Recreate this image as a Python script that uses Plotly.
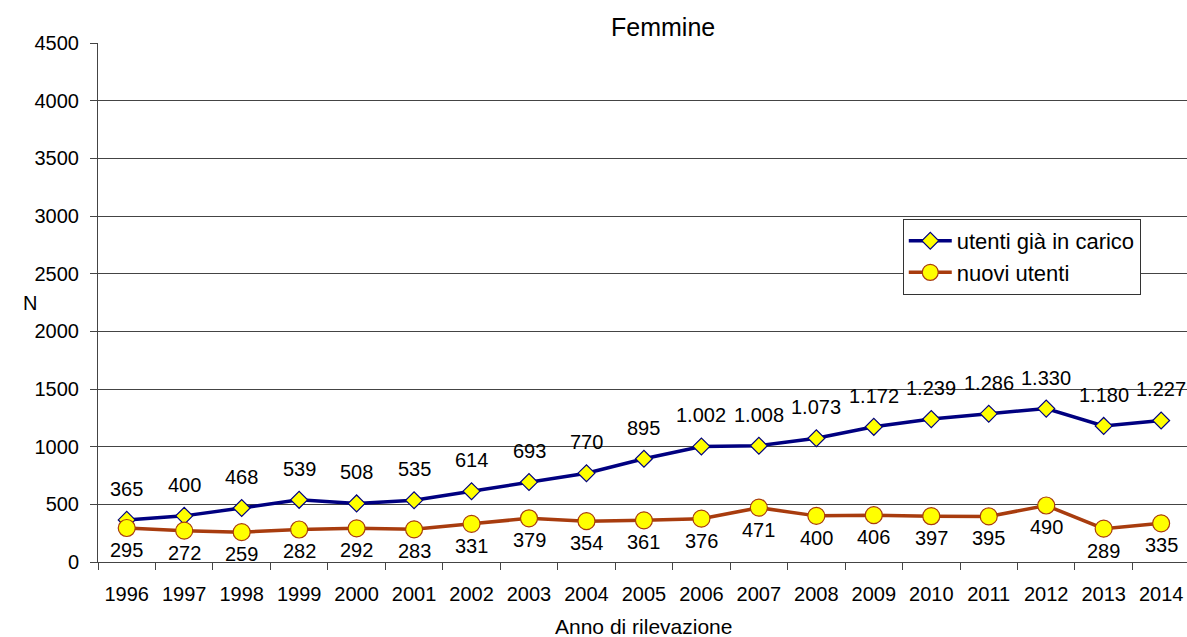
import plotly.graph_objects as go

years = [str(y) for y in range(1996, 2015)]
gia_in_carico = [365, 400, 468, 539, 508, 535, 614, 693, 770, 895, 1002, 1008, 1073, 1172, 1239, 1286, 1330, 1180, 1227]
nuovi_utenti = [295, 272, 259, 282, 292, 283, 331, 379, 354, 361, 376, 471, 400, 406, 397, 395, 490, 289, 335]
y_ticks = [0, 500, 1000, 1500, 2000, 2500, 3000, 3500, 4000, 4500]


def fmt(v):
    return f"{v:,}".replace(",", ".")


FONT = "Liberation Sans, Arial, sans-serif"
BLUE = "#000080"
BROWN = "#A83C0E"

fig = go.Figure()
fig.add_trace(go.Scatter(
    x=years, y=gia_in_carico, name="utenti già in carico", mode="lines+markers",
    line=dict(color=BLUE, width=3.5),
    marker=dict(symbol="diamond", size=13, color="#FFFF00", line=dict(color=BLUE, width=1.2)),
))
fig.add_trace(go.Scatter(
    x=years, y=nuovi_utenti, name="nuovi utenti", mode="lines+markers",
    line=dict(color=BROWN, width=3.5),
    marker=dict(symbol="circle", size=17, color="#FFFF00", line=dict(color=BROWN, width=1.2)),
))

annotations = []
for i, v in enumerate(gia_in_carico):
    annotations.append(dict(x=i, y=v, xref="x", yref="y", text=fmt(v), showarrow=False, yshift=31,
                            font=dict(family=FONT, size=20, color="#000")))
for i, v in enumerate(nuovi_utenti):
    annotations.append(dict(x=i, y=v, xref="x", yref="y", text=fmt(v), showarrow=False, yshift=-22,
                            font=dict(family=FONT, size=20, color="#000")))
annotations.append(dict(x=0.501, y=-0.125, xref="paper", yref="paper", text="Anno di rilevazione",
                        showarrow=False, font=dict(family=FONT, size=21, color="#000"), yanchor="middle"))
annotations.append(dict(x=-0.0707, y=0.499, xref="paper", yref="paper", text="N",
                        showarrow=False, font=dict(family=FONT, size=20, color="#000"), yanchor="middle"))
annotations.append(dict(x=0.519, y=1.031, xref="paper", yref="paper", text="Femmine",
                        showarrow=False, font=dict(family=FONT, size=25, color="#000"), yanchor="middle"))

fig.update_layout(
    width=1187, height=637,
    margin=dict(l=98, r=0, t=43, b=75, autoexpand=False),
    paper_bgcolor="white", plot_bgcolor="white",
    font=dict(family=FONT, size=20, color="#000"),
    showlegend=True,
    legend=dict(x=0.739, y=0.661, xanchor="left", yanchor="top",
                bgcolor="white", bordercolor="#333", borderwidth=1,
                font=dict(family=FONT, size=22), tracegroupgap=0, itemwidth=43),
    annotations=annotations,
)
fig.update_xaxes(
    type="category", range=[-0.5, 18.45], showgrid=False,
    showline=True, linecolor="#444", linewidth=1,
    ticks="outside", tickson="boundaries", ticklen=7, tickcolor="#444",
    tickfont=dict(family=FONT, size=20), ticklabelstandoff=14,
)
fig.update_yaxes(
    range=[0, 4500], tickvals=y_ticks, showgrid=True, gridcolor="#444", gridwidth=1,
    showline=True, linecolor="#444", linewidth=1, zeroline=False,
    ticks="outside", ticklen=7, tickcolor="#444",
    tickfont=dict(family=FONT, size=20), ticklabelstandoff=7,
)
fig.write_html("out.html", config={"displayModeBar": False},
               post_script="document.body.style.margin='0';document.body.style.overflow='hidden';")
